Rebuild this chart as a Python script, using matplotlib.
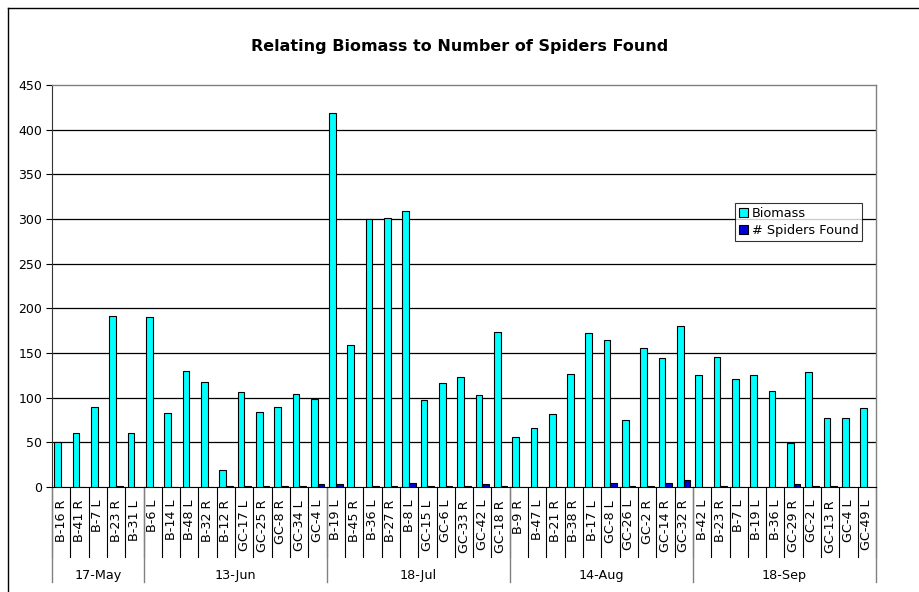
import matplotlib
matplotlib.use("Agg")
import matplotlib.pyplot as plt
from matplotlib.transforms import blended_transform_factory
from matplotlib.lines import Line2D

# ---- data ----
dates = ["17-May", "13-Jun", "18-Jul", "14-Aug", "18-Sep"]
samples_may = ["B-16 R", "B-41 R", "B-7 L", "B-23 R", "B-31 L"]
samples_jun = ["B-6 L", "B-14 L", "B-48 L", "B-32 R", "B-12 R", "GC-17 L", "GC-25 R", "GC-8 R", "GC-34 L", "GC-4 L"]
samples_jul = ["B-19 L", "B-45 R", "B-36 L", "B-27 R", "B-8 L", "GC-15 L", "GC-6 L", "GC-33 R", "GC-42 L", "GC-18 R"]
samples_aug = ["B-9 R", "B-47 L", "B-21 R", "B-38 R", "B-17 L", "GC-8 L", "GC-26 L", "GC-2 R", "GC-14 R", "GC-32 R"]
samples_sep = ["B-42 L", "B-23 R", "B-7 L", "B-19 L", "B-36 L", "GC-29 R", "GC-2 L", "GC-13 R", "GC-4 L", "GC-49 L"]

biomass_may = [50, 60, 90, 191, 61]
biomass_jun = [190, 83, 130, 118, 19, 106, 84, 90, 104, 98]
biomass_jul = [419, 159, 300, 301, 309, 97, 116, 123, 103, 173]
biomass_aug = [56, 66, 82, 127, 172, 165, 75, 156, 144, 180]
biomass_sep = [125, 145, 121, 125, 107, 49, 129, 77, 77, 88]

spiders_may = [0, 0, 0, 1, 0]
spiders_jun = [0, 0, 0, 0, 1, 1, 1, 1, 1, 3]
spiders_jul = [3, 0, 1, 1, 5, 1, 1, 1, 3, 1]
spiders_aug = [0, 0, 0, 0, 0, 5, 1, 1, 5, 8]
spiders_sep = [0, 1, 0, 0, 0, 3, 1, 1, 0, 0]

groups = [samples_may, samples_jun, samples_jul, samples_aug, samples_sep]
labels = sum(groups, [])
biomass = biomass_may + biomass_jun + biomass_jul + biomass_aug + biomass_sep
spiders = spiders_may + spiders_jun + spiders_jul + spiders_aug + spiders_sep

plt.rcParams['font.family'] = ['DejaVu Sans']

W, H = 920, 592
fig = plt.figure(figsize=(W / 100, H / 100), dpi=100)
L, R, T, B = 52, 876, 85, 487
ax = fig.add_axes([L / W, 1 - B / H, (R - L) / W, (B - T) / H])

n = len(labels)
x = list(range(n))
bw = 0.365
ax.bar([i - bw / 2 for i in x], biomass, width=bw, color='#00FFFF',
       edgecolor='black', linewidth=0.8, label='Biomass', zorder=3)
ax.bar([i + bw / 2 for i in x], spiders, width=bw, color='#0000D8',
       edgecolor='black', linewidth=0.8, label='# Spiders Found', zorder=3)

ax.set_xlim(-0.5, n - 0.5)
ax.set_ylim(0, 450)
ax.set_yticks(range(0, 451, 50))
ax.tick_params(axis='y', direction='out', length=4, width=0.8, labelsize=9, pad=3)
ax.set_xticks([])
for y in range(50, 450, 50):
    ax.axhline(y, color='black', linewidth=0.9, zorder=1)

for s in ['top', 'right']:
    ax.spines[s].set_color('#808080')
    ax.spines[s].set_linewidth(1.0)
ax.spines['left'].set_color('#333333')
ax.spines['bottom'].set_color('black')

# category axis
tr = blended_transform_factory(ax.transData, ax.transAxes)
ah = B - T
tick_low = -(557 - B) / ah
grp_low = -(582 - B) / ah
lab_top = -(500 - B) / ah
grp_lab = -(575 - B) / ah

for i in range(n + 1):
    ax.add_line(Line2D([i - 0.5, i - 0.5], [0, tick_low], transform=tr,
                       color='black', linewidth=0.8, clip_on=False))
for i, lab in enumerate(labels):
    ax.text(i, lab_top, lab, transform=tr, rotation=90, ha='center', va='top',
            fontsize=9.2)

start = 0
bounds = [0]
for g in groups:
    start += len(g)
    bounds.append(start)
for b in bounds:
    ax.add_line(Line2D([b - 0.5, b - 0.5], [0, grp_low], transform=tr,
                       color='#808080', linewidth=1.0, clip_on=False))
for k, d in enumerate(dates):
    c = (bounds[k] + bounds[k + 1] - 1) / 2
    ax.text(c, grp_lab, d, transform=tr, ha='center', va='center', fontsize=9.2)

leg = ax.legend(loc='upper left', bbox_to_anchor=((735 - L) / (R - L), (B - 203) / ah),
                borderaxespad=0, fontsize=9.3, frameon=True, fancybox=False,
                handlelength=0.7, handleheight=0.7, handletextpad=0.3,
                borderpad=0.3, labelspacing=0.35)
leg.get_frame().set_edgecolor('black')
leg.get_frame().set_linewidth(0.8)
leg.set_zorder(5)

fig.text(0.5, 1 - 47 / H, 'Relating Biomass to Number of Spiders Found',
         ha='center', va='center', fontsize=11.5, fontweight='bold')

# outer chart border
fig.add_artist(Line2D([8 / W, 1], [1 - 8 / H, 1 - 8 / H], transform=fig.transFigure,
                      color='black', linewidth=1.0))
fig.add_artist(Line2D([8 / W, 8 / W], [1 - 8 / H, 0], transform=fig.transFigure,
                      color='black', linewidth=1.0))

fig.savefig('out.png', dpi=100)
